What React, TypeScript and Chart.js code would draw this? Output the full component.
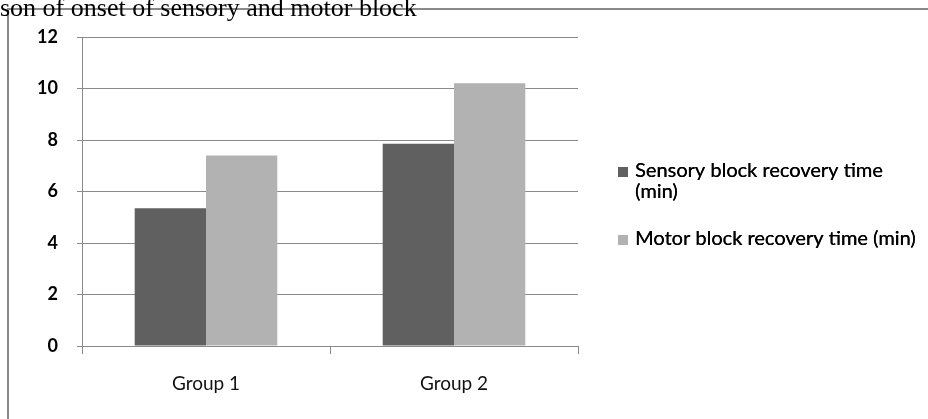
import React, { useEffect, useRef } from "react";
import { Chart, registerables } from "chart.js";

Chart.register(...registerables);

const categories = ["Group 1", "Group 2"];
const sensoryValues = [5.35, 7.85];
const motorValues = [7.4, 10.2];
const seriesNames = [["Sensory block recovery time", "(min)"], ["Motor block recovery time (min)"]];
const seriesColors = ["#606060", "#b2b2b2"];
const titleText = "son of onset of sensory and motor block";

const legendPlugin = {
  id: "sideLegend",
  afterDraw(chart: any) {
    const ctx = chart.ctx;
    ctx.save();
    ctx.font = "20px Lato";
    ctx.textBaseline = "alphabetic";
    ctx.textAlign = "left";
    const x = 618;
    let y = 177;
    seriesNames.forEach((lines, i) => {
      ctx.fillStyle = seriesColors[i];
      ctx.fillRect(x, y - 10, 10, 10);
      ctx.fillStyle = "#000";
      lines.forEach((ln, j) => {
        ctx.fillText(ln, x + 17, y + j * 21);
        ctx.fillText(ln, x + 17.3, y + j * 21);
      });
      y += lines.length * 21 + 26;
    });
    ctx.restore();
  },
};

export default function App() {
  const ref = useRef<HTMLCanvasElement>(null);
  useEffect(() => {
    if (!ref.current) return;
    const chart = new Chart(ref.current, {
      type: "bar",
      data: {
        labels: categories,
        datasets: [
          { label: seriesNames[0].join(" "), data: sensoryValues, backgroundColor: seriesColors[0], categoryPercentage: 0.575, barPercentage: 1 },
          { label: seriesNames[1].join(" "), data: motorValues, backgroundColor: seriesColors[1], categoryPercentage: 0.575, barPercentage: 1 },
        ],
      },
      options: {
        responsive: false,
        animation: false,
        layout: { padding: { top: 37, right: 350, left: 0, bottom: 0 } },
        plugins: { legend: { display: false }, tooltip: { enabled: false }, title: { display: false } },
        scales: {
          x: {
            afterFit: (s: any) => { s.height = 419 - 346; },
            grid: { drawOnChartArea: false, drawTicks: true, tickLength: 8, color: "#8a8a8a" },
            border: { color: "#8a8a8a", width: 1 },
            ticks: { color: "#111", font: { family: "Lato", size: 19 }, padding: 18 },
          },
          y: {
            min: 0,
            max: 12,
            afterFit: (s: any) => { s.width = 82; },
            ticks: { stepSize: 2, color: "#000", font: { family: "Lato", size: 18, weight: "bold" }, padding: 19 },
            grid: { color: "#8a8a8a", tickLength: 5, drawTicks: true },
            border: { color: "#8a8a8a", width: 1 },
          },
        },
      },
      plugins: [legendPlugin],
    });
    return () => chart.destroy();
  }, []);
  return (
    <div style={{ position: "fixed", left: 0, top: 0, width: 928, height: 419, background: "#fff", overflow: "hidden" }}>
      <div style={{ position: "absolute", left: 7, top: 8, width: 930, height: 420, borderTop: "2px solid #8a8a8a", borderLeft: "2px solid #8a8a8a" }} />
      <canvas ref={ref} width={928} height={419} style={{ position: "absolute", left: 0, top: 0 }} />
      <div style={{ position: "absolute", left: 0, top: -7, font: "26px 'Liberation Serif'", whiteSpace: "nowrap", color: "#000", lineHeight: "29px" }}>{titleText}</div>
    </div>
  );
}
